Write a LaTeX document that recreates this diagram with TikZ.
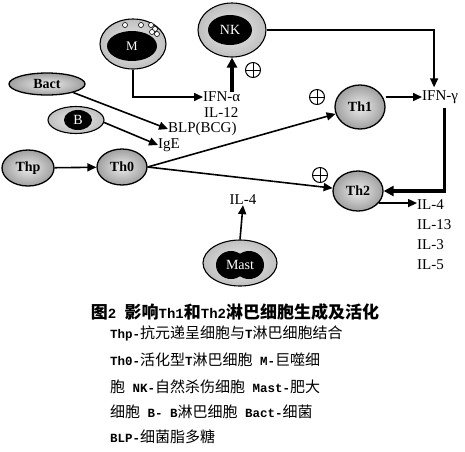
\documentclass[tikz,border=0pt]{standalone}
\usepackage{fontspec}
\setmainfont{Liberation Serif}
\newfontfamily\cjk{Noto Sans CJK SC}
\newfontfamily\lmono{Liberation Mono}
\usetikzlibrary{arrows.meta,shapes.geometric}
\newcommand\lat[1]{{\lmono\bfseries\fontsize{12.5}{15}\selectfont #1}}
\newcommand\latb[1]{{\lmono\bfseries\fontsize{14}{16}\selectfont #1}}
\begin{document}
\begin{tikzpicture}[x=1pt,y=-1pt,
  cell/.style={ellipse, draw=black, line width=1.3pt, shading=radial,
    inner color=gray!15, outer color=gray!75, inner sep=0pt,
    font=\bfseries\fontsize{14}{16}\selectfont},
  ring/.style={ellipse, draw=black, line width=1.1pt, shading=radial,
    inner color=gray!15, outer color=gray!50, inner sep=0pt},
  core/.style={ellipse, fill=black, inner sep=0pt, text=white,
    font=\fontsize{14}{16}\selectfont},
  lbl/.style={inner sep=0pt, font=\fontsize{15}{17}\selectfont},
  arr/.style={line width=1.6pt, -{Triangle[length=9pt,width=8pt]}},
  tarr/.style={line width=3.2pt, -{Triangle[length=10pt,width=10pt]}},
  plus/.style={circle, draw=black, line width=1pt, minimum size=15pt, inner sep=0pt,
    path picture={\draw[line width=1pt] (path picture bounding box.north) -- (path picture bounding box.south)
      (path picture bounding box.west) -- (path picture bounding box.east);}},
  vesicle/.style={circle, draw=black, fill=white, line width=0.6pt, minimum size=5pt, inner sep=0pt},
  capline/.style={anchor=west, inner sep=0pt, font=\cjk\fontsize{15}{18}\selectfont}
]
\useasboundingbox (0,0) rectangle (465,451);

% ---- cells ----
\node[cell, minimum width=52pt, minimum height=36pt] (Thp) at (28,168) {Thp};
\node[cell, minimum width=50pt, minimum height=36pt] (Th0) at (122,167) {Th0};
\node[cell, minimum width=50pt, minimum height=44pt] (Th1) at (360,107) {Th1};
\node[cell, minimum width=50pt, minimum height=40pt] (Th2) at (358,191) {Th2};
\node[cell, minimum width=76pt, minimum height=22pt] (Bact) at (47,84) {Bact};

\node[ring, minimum width=56pt, minimum height=27pt] (B) at (76,120) {};
\node[core, minimum width=28pt, minimum height=20pt] (Bin) at (78,120) {B};

\node[ring, minimum width=66pt, minimum height=50pt] (M) at (133,44) {};
\node[core, minimum width=50pt, minimum height=30pt, font=\fontsize{13}{15}\selectfont] (Min) at (132,46) {M};
\node[vesicle] (v1) at (125,25) {};
\node[vesicle] (v2) at (141,25) {};
\node[vesicle] (v3) at (151,25) {};
\node[vesicle] (v4) at (155,29) {};
\node[vesicle] (v5) at (157,34) {};
\node[vesicle] (v6) at (152,32) {};

\node[ring, minimum width=68pt, minimum height=54pt] (NK) at (232,30) {};
\node[core, minimum width=44pt, minimum height=30pt] (NKin) at (230,30) {NK};

\node[ring, minimum width=74pt, minimum height=46pt] (Mast) at (240,263) {};
\node[ellipse, fill=black, minimum width=30pt, minimum height=28pt, inner sep=0pt] (Mastl) at (231,265) {};
\node[ellipse, fill=black, minimum width=30pt, minimum height=28pt, inner sep=0pt] (Mastr) at (249,265) {};
\node[core, fill=none] (Mastt) at (240,265) {Mast};

% ---- labels ----
\node[lbl, anchor=west] (ifna) at (203,97) {IFN-α};
\node[lbl, anchor=west] (il12) at (204,113) {IL-12};
\node[lbl, anchor=west] (blp) at (168,129) {BLP(BCG)};
\node[lbl, anchor=west] (ige) at (158,145) {IgE};
\node[lbl, anchor=west] (ifng) at (422,97) {IFN-γ};
\node[lbl] (il4m) at (243,200) {IL-4};
\node[lbl, anchor=west] (il4) at (417,205) {IL-4};
\node[lbl, anchor=west] (il13) at (417,225) {IL-13};
\node[lbl, anchor=west] (il3) at (417,245) {IL-3};
\node[lbl, anchor=west] (il5) at (417,265) {IL-5};

\node[plus] (p1) at (253,70) {};
\node[plus] (p2) at (317,97) {};
\node[plus] (p3) at (320,175) {};

% ---- connectors ----
\draw[arr] (Thp) -- (Th0);
\draw[arr] (Th0.east) -- (Th1);
\draw[arr] (Th0.east) -- (Th2);
\draw[arr] (Bact.-18) -- (blp.west);
\draw[arr] (B.-5) -- (ige.west);
\draw[arr] (M.south) |- (ifna.west);
\draw[tarr] (ifna.north -| NK) -- (NK.south);
\draw[arr] (NK.east) -| ([xshift=-6pt,yshift=3pt]ifng.north);
\draw[arr] (Th1.east |- ifng.west) -- (ifng.west);
\draw[tarr] ([xshift=4pt,yshift=-4pt]ifng.south) |- (Th2.east);
\draw[arr] (Th2.-30) -- (Th2.-30 -| il4.west);
\draw[arr] (Mast.north) -- (il4m.south);

% ---- caption ----
\node[anchor=center, inner sep=0pt, font=\cjk\bfseries\fontsize{17}{19}\selectfont] (title) at (235,312)
  {图\latb{2~}影响\latb{Th1}和\latb{Th2}淋巴细胞生成及活化};
\node[capline] (c1) at (110,333) {\lat{Thp-}抗元递呈细胞与\lat{T}淋巴细胞结合};
\node[capline] (c2) at (110,360) {\lat{Th0-}活化型\lat{T}淋巴细胞\lat{~M-}巨噬细};
\node[capline] (c3) at (110,387) {胞\lat{~NK-}自然杀伤细胞\lat{~Mast-}肥大};
\node[capline] (c4) at (110,412) {细胞\lat{~B-~B}淋巴细胞\lat{~Bact-}细菌};
\node[capline] (c5) at (110,437) {\lat{BLP-}细菌脂多糖};
\end{tikzpicture}
\end{document}
